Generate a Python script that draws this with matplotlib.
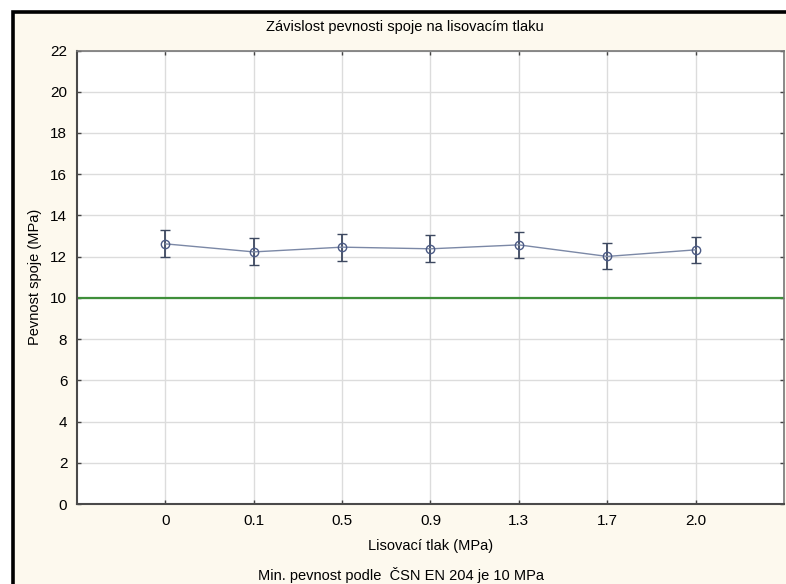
import numpy as np
import matplotlib
matplotlib.use("Agg")
import matplotlib.pyplot as plt
from matplotlib.patches import Rectangle

# DATOS
tlak = ["0", "0.1", "0.5", "0.9", "1.3", "1.7", "2.0"]
pevnost = [12.62, 12.23, 12.46, 12.38, 12.57, 12.01, 12.33]
chyba = [0.66, 0.65, 0.65, 0.65, 0.64, 0.63, 0.64]
min_pevnost = 10

plt.rcParams['font.family'] = ['Liberation Sans', 'DejaVu Sans']

fig = plt.figure(figsize=(7.86, 5.84), dpi=100, facecolor='white')

# ramecek a kremove pozadi
ramecek = Rectangle((13 / 786, -0.2), 1.2, 1.2 - 12 / 584,
                    transform=fig.transFigure, facecolor='#fdf9ee',
                    edgecolor='black', linewidth=2.6, zorder=-5)
fig.patches.append(ramecek)

ax = fig.add_axes([77 / 786, 1 - 504 / 584, (784 - 77) / 786, (504 - 50.5) / 584])
ax.set_facecolor('white')

x = np.arange(len(tlak))
ax.axhline(min_pevnost, color='#3f8f3a', linewidth=1.6, zorder=2)
ax.errorbar(x, pevnost, yerr=chyba, color='#7b88a6', linewidth=1.0,
            ecolor='#3d4860', elinewidth=1.3, capsize=3.8, capthick=1.3,
            marker='o', markersize=6, markerfacecolor='none',
            markeredgecolor='#4b5a85', markeredgewidth=1.0, zorder=3)

ax.set_xlim(-1, len(tlak))
ax.set_ylim(0, 22)
ax.set_xticks(x)
ax.set_xticklabels(tlak)
ax.set_yticks(np.arange(0, 23, 2))
ax.grid(True, color='#dcdcdc', linewidth=1.0)
ax.set_axisbelow(True)

ax.tick_params(direction='in', length=3, width=1, color='#444444',
               labelsize=11, top=True, right=True, pad=7)
for s in ['left', 'bottom']:
    ax.spines[s].set_color('#4a4a4a')
    ax.spines[s].set_linewidth(1.5)
for s in ['top', 'right']:
    ax.spines[s].set_color('#777777')
    ax.spines[s].set_linewidth(1.2)

ax.set_xlabel("Lisovací tlak (MPa)", fontsize=10.5, labelpad=8)
ax.set_ylabel("Pevnost spoje (MPa)", fontsize=10.5, labelpad=6)

fig.text(405 / 786, 1 - 27 / 584, "Závislost pevnosti spoje na lisovacím tlaku",
         ha='center', va='center', fontsize=10.5)
fig.text(401 / 786, 1 - 575 / 584, "Min. pevnost podle  ČSN EN 204 je 10 MPa",
         ha='center', va='center', fontsize=10.5)

fig.savefig("out.png", dpi=100, facecolor=fig.get_facecolor())
